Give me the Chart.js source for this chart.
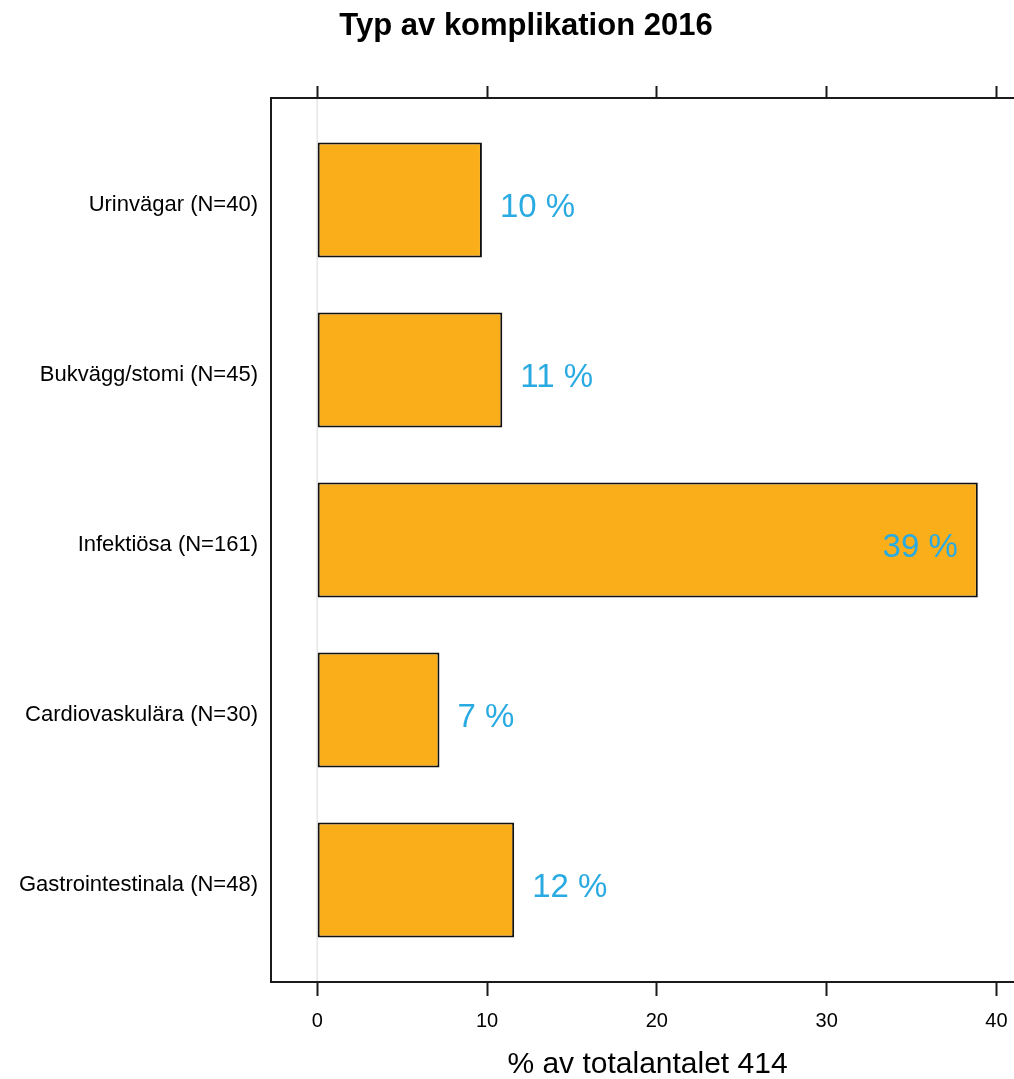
<!DOCTYPE html>
<html lang="sv">
<head>
  <meta charset="UTF-8">
  <title>Typ av komplikation 2016</title>
  <script src="https://cdn.jsdelivr.net/npm/chart.js"></script>
  <style>
    html, body { margin: 0; padding: 0; background: #fff; overflow: hidden; }
    #wrap { width: 1052px; height: 1079px; }
  </style>
</head>
<body>
  <div id="wrap">
    <canvas id="barChart" width="1052" height="1079"></canvas>
  </div>

  <script>
    // Complication types, top to bottom, with share of all 414 complications (%)
    const categories = ['Urinvägar (N=40)', 'Bukvägg/stomi (N=45)', 'Infektiösa (N=161)', 'Cardiovaskulära (N=30)', 'Gastrointestinala (N=48)'];
    const percentages = [9.7, 10.9, 38.9, 7.2, 11.6];
    const xTicks = [0, 10, 20, 30, 40];
    const xTickLabels = ['0', '10', '20', '30', '40'];

    const chartTitle = 'Typ av komplikation 2016';
    const xTitle = '% av totalantalet 414';

    const FONT = '"Liberation Sans", Arial, Helvetica, sans-serif';
    const xMin = -2.72, xMax = 41.62;

    function setXTicks(scale) {
      scale.ticks = xTicks.map(v => ({ value: v }));
    }

    // faint reference line at x = 0
    const zeroLine = {
      id: 'zeroLine',
      beforeDatasetsDraw(chart) {
        const { ctx, chartArea, scales } = chart;
        const x = scales.x.getPixelForValue(0);
        ctx.save();
        ctx.strokeStyle = '#e6e6e6';
        ctx.lineWidth = 1.5;
        ctx.beginPath();
        ctx.moveTo(x, chartArea.top);
        ctx.lineTo(x, chartArea.bottom);
        ctx.stroke();
        ctx.restore();
      }
    };

    // frame, percent labels and titles
    const decorations = {
      id: 'decorations',
      afterDraw(chart) {
        const { ctx, chartArea } = chart;
        ctx.save();
        ctx.strokeStyle = '#1a1a1a';
        ctx.lineWidth = 2;
        ctx.strokeRect(chartArea.left, chartArea.top, chartArea.right - chartArea.left, chartArea.bottom - chartArea.top);

        ctx.font = '33px ' + FONT;
        ctx.fillStyle = '#29abe2';
        ctx.textBaseline = 'alphabetic';
        const meta = chart.getDatasetMeta(0);
        meta.data.forEach((bar, i) => {
          const txt = Math.round(percentages[i]) + ' %';
          const w = ctx.measureText(txt).width;
          if (bar.x + 18 + w > chartArea.right) {
            ctx.textAlign = 'right';
            ctx.fillText(txt, bar.x - 20, bar.y + 17);
          } else {
            ctx.textAlign = 'left';
            ctx.fillText(txt, bar.x + 18, bar.y + 17);
          }
        });

        ctx.fillStyle = '#000';
        ctx.textAlign = 'center';
        ctx.font = 'bold 31px ' + FONT;
        ctx.fillText(chartTitle, chart.width / 2, 35);

        ctx.font = '30px ' + FONT;
        ctx.fillText(xTitle, (chartArea.left + chartArea.right) / 2, 1073);
        ctx.restore();
      }
    };

    const ctx = document.getElementById('barChart').getContext('2d');
    new Chart(ctx, {
      type: 'bar',
      data: {
        datasets: [{
          data: percentages.map((v, i) => ({ x: v, y: i + 1 })),
          backgroundColor: '#f9ae1a',
          borderColor: '#111',
          borderWidth: 2,
          borderSkipped: false,
          barPercentage: 0.676,
          categoryPercentage: 1
        }]
      },
      plugins: [zeroLine, decorations],
      options: {
        indexAxis: 'y',
        responsive: false,
        animation: false,
        layout: { padding: { left: 0, right: 28, top: 0, bottom: 0 } },
        plugins: {
          legend: { display: false },
          tooltip: { enabled: false }
        },
        scales: {
          x: {
            type: 'linear',
            position: 'bottom',
            min: xMin,
            max: xMax,
            afterBuildTicks: setXTicks,
            afterFit(scale) { scale.height = 97; },
            border: { display: false },
            grid: { drawOnChartArea: false, drawTicks: true, tickLength: 14, tickWidth: 2, tickColor: '#1a1a1a' },
            ticks: {
              color: '#000',
              padding: 13,
              font: { family: FONT, size: 20 },
              callback: (v) => xTickLabels[xTicks.indexOf(v)]
            }
          },
          xTop: {
            type: 'linear',
            position: 'top',
            min: xMin,
            max: xMax,
            afterBuildTicks: setXTicks,
            afterFit(scale) { scale.height = 98; },
            border: { display: false },
            grid: { drawOnChartArea: false, drawTicks: true, tickLength: 12, tickWidth: 2, tickColor: '#1a1a1a' },
            ticks: { display: false }
          },
          y: {
            type: 'linear',
            min: 0.4,
            max: 5.6,
            reverse: true,
            offset: false,
            afterBuildTicks(scale) { scale.ticks = categories.map((c, i) => ({ value: i + 1 })); },
            afterFit(scale) { scale.width = 271; },
            border: { display: false },
            grid: { display: false, drawTicks: false, offset: false },
            ticks: {
              color: '#000',
              padding: 13,
              labelOffset: 5,
              autoSkip: false,
              font: { family: FONT, size: 22 },
              callback: (v) => categories[v - 1]
            }
          }
        }
      }
    });
  </script>
</body>
</html>
